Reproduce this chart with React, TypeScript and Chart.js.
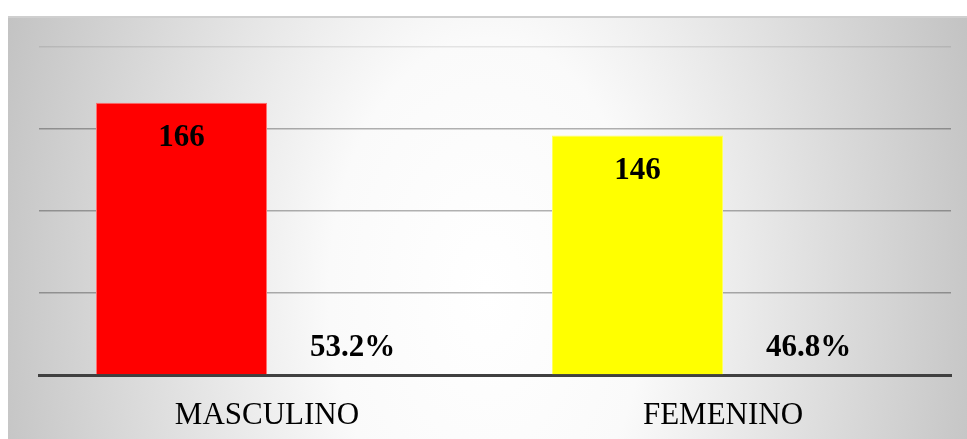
import React, { useEffect, useRef } from "react";
import { Chart, registerables } from "chart.js";

Chart.register(...registerables);

const categories = ["MASCULINO", "FEMENINO"];
const counts = [166, 146];
const percents = [53.2, 46.8];
const percentLabels = ["53.2%", "46.8%"];
const barColors = ["#ff0000", "#ffff00"];
const barBorders = ["#ff7070", "#ffff60"];
const yTicks = [0, 50, 100, 150, 200];

const FONT = "'Liberation Serif', 'Times New Roman', serif";

const labelPlugin = {
  id: "barLabels",
  afterDatasetsDraw(chart: any) {
    const ctx = chart.ctx;
    ctx.save();
    ctx.fillStyle = "#000";
    ctx.font = `bold 31px ${FONT}`;
    ctx.textAlign = "center";
    ctx.textBaseline = "alphabetic";
    const m0 = chart.getDatasetMeta(0);
    m0.data.forEach((bar: any, i: number) => {
      ctx.fillText(String(counts[i]), bar.x, bar.y + 43);
    });
    const m1 = chart.getDatasetMeta(1);
    m1.data.forEach((bar: any, i: number) => {
      ctx.fillText(percentLabels[i], bar.x, bar.y - 18);
    });
    ctx.restore();
  },
};

export default function App() {
  const ref = useRef<HTMLCanvasElement>(null);
  useEffect(() => {
    if (!ref.current) return;
    const chart = new Chart(ref.current, {
      type: "bar",
      data: {
        labels: categories,
        datasets: [
          {
            data: counts,
            backgroundColor: barColors,
            borderColor: barBorders,
            borderWidth: 1,
            categoryPercentage: 0.75,
            barPercentage: 1,
          },
          {
            data: percents.map((p) => p / 100),
            backgroundColor: "rgba(0,0,0,0)",
            borderWidth: 0,
            categoryPercentage: 0.75,
            barPercentage: 1,
          },
        ],
      },
      options: {
        animation: false,
        responsive: true,
        maintainAspectRatio: false,
        layout: { padding: { left: 31, right: 16, top: 29, bottom: 0 } },
        plugins: { legend: { display: false }, tooltip: { enabled: false } },
        scales: {
          x: {
            grid: { display: false, drawTicks: false },
            border: { display: true, color: "#404040", width: 3 },
            ticks: {
              color: "#000",
              font: { family: FONT, size: 31 },
              padding: 22,
            },
            afterFit(scale: any) {
              scale.height = 64;
            },
          },
          y: {
            min: 0,
            max: 200,
            afterBuildTicks(scale: any) {
              scale.ticks = yTicks.map((v) => ({ value: v }));
            },
            ticks: { display: false },
            grid: {
              color: (c: any) =>
                c.tick && c.tick.value === 200 ? "rgba(0,0,0,0.09)" : "rgba(0,0,0,0.3)",
              lineWidth: 1.6,
              drawTicks: false,
            },
            border: { display: false },
            afterFit(scale: any) {
              scale.width = 0;
            },
          },
        },
      },
      plugins: [labelPlugin],
    });
    return () => chart.destroy();
  }, []);

  return (
    <div
      style={{
        position: "fixed",
        left: 8,
        top: 16,
        width: 959,
        height: 423,
        boxSizing: "border-box",
        borderTop: "2px solid #cfcfcf",
        background:
          "radial-gradient(ellipse 55% 200% at 50% 65%, #ffffff 0%, #fafafa 30%, #c0c0c0 100%)",
      }}
    >
      <div style={{ position: "relative", width: "100%", height: "100%" }}>
        <canvas ref={ref} />
      </div>
    </div>
  );
}
